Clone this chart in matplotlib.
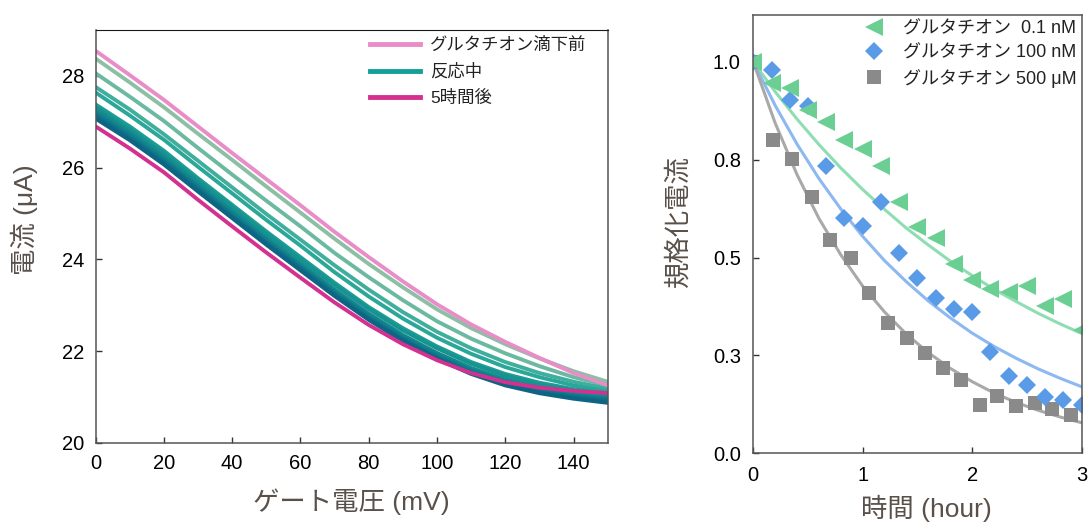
import numpy as np
import matplotlib.pyplot as plt

plt.rcParams['font.family'] = ['Liberation Sans', 'Noto Sans CJK JP']

# left panel: gate voltage sweeps (uA), every 10 mV
gate_mv = [0, 10, 20, 30, 40, 50, 60, 70, 80, 90, 100, 110, 120, 130, 140, 150]

before = [28.55, 28.02, 27.48, 26.90, 26.32, 25.75, 25.18, 24.60, 24.05, 23.52, 23.02, 22.58, 22.20, 21.85, 21.52, 21.25]
after_5h = [26.90, 26.42, 25.90, 25.30, 24.72, 24.15, 23.60, 23.06, 22.57, 22.15, 21.80, 21.52, 21.32, 21.20, 21.13, 21.08]

during = [
    [28.38, 27.86, 27.32, 26.74, 26.17, 25.59, 25.02, 24.45, 23.90, 23.39, 22.91, 22.50, 22.15, 21.84, 21.56, 21.33],
    [28.06, 27.55, 27.02, 26.43, 25.85, 25.28, 24.72, 24.14, 23.61, 23.11, 22.65, 22.27, 21.95, 21.67, 21.43, 21.25],
    [27.76, 27.27, 26.73, 26.15, 25.57, 24.99, 24.43, 23.87, 23.34, 22.85, 22.42, 22.06, 21.76, 21.52, 21.33, 21.18],
    [27.64, 27.14, 26.61, 26.02, 25.44, 24.86, 24.30, 23.72, 23.19, 22.71, 22.29, 21.94, 21.65, 21.43, 21.25, 21.12],
    [27.38, 26.90, 26.37, 25.77, 25.19, 24.61, 24.05, 23.49, 22.96, 22.50, 22.10, 21.76, 21.50, 21.31, 21.17, 21.08],
    [27.32, 26.84, 26.31, 25.72, 25.14, 24.56, 24.00, 23.44, 22.92, 22.45, 22.06, 21.72, 21.46, 21.27, 21.13, 21.04],
    [27.26, 26.78, 26.24, 25.65, 25.06, 24.47, 23.91, 23.34, 22.82, 22.35, 21.96, 21.63, 21.38, 21.20, 21.08, 21.00],
    [27.20, 26.72, 26.18, 25.59, 25.00, 24.42, 23.86, 23.29, 22.77, 22.31, 21.92, 21.58, 21.33, 21.16, 21.04, 20.96],
    [27.15, 26.67, 26.14, 25.55, 24.96, 24.38, 23.82, 23.26, 22.73, 22.27, 21.88, 21.55, 21.30, 21.13, 21.01, 20.93],
    [27.11, 26.63, 26.10, 25.51, 24.92, 24.35, 23.79, 23.22, 22.70, 22.24, 21.85, 21.52, 21.27, 21.10, 20.98, 20.90],
    [27.07, 26.60, 26.07, 25.48, 24.90, 24.32, 23.76, 23.20, 22.68, 22.22, 21.83, 21.50, 21.25, 21.08, 20.96, 20.87],
]
during_colors = ['#8cbfa4', '#6cb9a2', '#3fae9d', '#2ba799', '#1c9d97', '#179490',
                 '#138a8f', '#11808c', '#0f768a', '#0e6d87', '#0d6483']

# right panel: normalized current vs time
t_grid = [0, 1/6, 2/6, 3/6, 4/6, 5/6, 1, 7/6, 8/6, 9/6, 10/6, 11/6, 2, 13/6, 14/6, 15/6, 16/6, 17/6, 3]
low_conc = [1.0, 0.947, 0.934, 0.877, 0.847, 0.800, 0.777, 0.734, 0.641, 0.579, 0.551, 0.483,
            0.444, 0.419, 0.411, 0.427, 0.376, 0.394, 0.315]
mid_conc = [1.0, 0.979, 0.902, 0.887, 0.734, 0.600, 0.581, 0.643, 0.511, 0.449, 0.396, 0.368,
            0.362, 0.260, 0.197, 0.174, 0.145, 0.136, 0.123]
t_high = [0, 0.18, 0.35, 0.54, 0.70, 0.89, 1.06, 1.23, 1.40, 1.57, 1.73, 1.90, 2.07, 2.23, 2.40, 2.57, 2.73, 2.90]
high_conc = [1.0, 0.800, 0.751, 0.655, 0.546, 0.500, 0.410, 0.334, 0.294, 0.257, 0.217, 0.187,
             0.123, 0.147, 0.121, 0.128, 0.112, 0.098]

t_fit = [0, 0.2, 0.4, 0.6, 0.8, 1.0, 1.2, 1.4, 1.6, 1.8, 2.0, 2.2, 2.4, 2.6, 2.8, 3.0]
low_fit = [1.0, 0.924, 0.854, 0.789, 0.729, 0.674, 0.623, 0.575, 0.532, 0.491, 0.454, 0.419, 0.388, 0.358, 0.331, 0.306]
mid_fit = [1.0, 0.889, 0.790, 0.702, 0.624, 0.554, 0.492, 0.438, 0.389, 0.346, 0.307, 0.273, 0.243, 0.216, 0.192, 0.170]
high_fit = [1.0, 0.844, 0.712, 0.600, 0.507, 0.427, 0.361, 0.304, 0.257, 0.217, 0.183, 0.154, 0.130, 0.110, 0.093, 0.078]

y_ticks_r = [0.0, 0.25, 0.5, 0.75, 1.0]
y_ticklabels_r = ['0.0', '0.3', '0.5', '0.8', '1.0']

label_col = '#595049'
spine_col = '#555555'

fig = plt.figure(figsize=(10.89, 5.23), dpi=100)

# ---- left
ax1 = fig.add_axes([0.0877, 0.1535, 0.4703, 0.789])
for ys, c in zip(during, during_colors):
    ax1.plot(gate_mv, ys, color=c, lw=2.8, solid_capstyle='round')
l_before, = ax1.plot(gate_mv, before, color='#e88dc8', lw=2.8)
l_after, = ax1.plot(gate_mv, after_5h, color='#d4308f', lw=2.8)
l_during, = ax1.plot([], [], color='#13a096', lw=3.2)

ax1.set_xlim(0, 150)
ax1.set_ylim(20, 29)
ax1.set_xticks([0, 20, 40, 60, 80, 100, 120, 140])
ax1.set_yticks([20, 22, 24, 26, 28])
ax1.tick_params(direction='in', length=4, width=1, color='#333333', labelsize=14.5, pad=8)
ax1.set_xlabel('ゲート電圧 (mV)', fontsize=19, color=label_col, va='center')
ax1.set_ylabel('電流 (μA)', fontsize=19, color=label_col, va='center')
ax1.xaxis.set_label_coords(0.5, -0.144)
ax1.yaxis.set_label_coords(-0.138, 0.54)
for s in ['left', 'bottom', 'right']:
    ax1.spines[s].set_color(spine_col)
    ax1.spines[s].set_linewidth(1.1)
ax1.spines['top'].set_color('#1a1a1a')

leg1 = ax1.legend([l_before, l_during, l_after], ['グルタチオン滴下前', '反応中', '5時間後'],
                  loc='upper left', bbox_to_anchor=(0.515, 1.008), frameon=False,
                  fontsize=12.5, handlelength=2.9, handletextpad=0.6, labelspacing=0.58,
                  borderpad=0.1)
for h in leg1.get_lines():
    h.set_linewidth(3.5)
for tx in leg1.get_texts():
    tx.set_color('#222222')

# ---- right
ax2 = fig.add_axes([0.6917, 0.1333, 0.3016, 0.838])
ax2.plot(t_fit, low_fit, color='#8fddb2', lw=2.2)
ax2.plot(t_fit, mid_fit, color='#8db8f0', lw=2.2)
ax2.plot(t_fit, high_fit, color='#a9a9a9', lw=2.2)
p3, = ax2.plot(t_high, high_conc, 's', color='#8a8a8a', ms=10, mew=0)
p2, = ax2.plot(t_grid, mid_conc, 'D', color='#5a9be8', ms=9.2, mew=0)
p1, = ax2.plot(t_grid, low_conc, '<', color='#6bcf94', ms=12.5, mew=0)

ax2.set_xlim(0, 3)
ax2.set_ylim(0, 1.12)
ax2.set_xticks([0, 1, 2, 3])
ax2.set_yticks(y_ticks_r)
ax2.set_yticklabels(y_ticklabels_r)
ax2.tick_params(direction='in', length=4, width=1, color='#333333', labelsize=14.5, pad=9)
ax2.set_xlabel('時間 (hour)', fontsize=19, color=label_col, va='center')
ax2.set_ylabel('規格化電流', fontsize=19, color=label_col, va='center')
ax2.xaxis.set_label_coords(0.526, -0.125)
ax2.yaxis.set_label_coords(-0.229, 0.53)
for s in ax2.spines.values():
    s.set_color(spine_col)
    s.set_linewidth(1.1)

leg2 = ax2.legend([p1, p2, p3], ['グルタチオン  0.1 nM', 'グルタチオン 100 nM', 'グルタチオン 500 μM'],
                  loc='upper right', bbox_to_anchor=(1.0, 1.0), frameon=False,
                  fontsize=13, handlelength=1.0, handletextpad=1.1, labelspacing=0.4,
                  borderpad=0.1, borderaxespad=0.2)
for tx in leg2.get_texts():
    tx.set_color('#222222')

fig.savefig('out.png', dpi=100)
